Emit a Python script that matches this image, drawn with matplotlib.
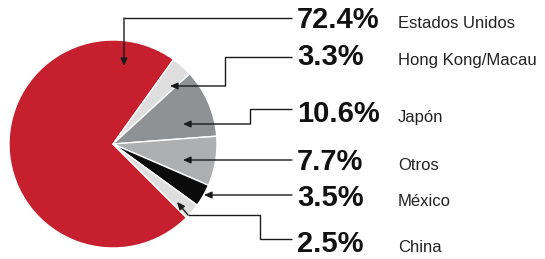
import matplotlib.pyplot as plt

W, H = 545, 259  # figure size in pixels

# data, top-to-bottom as in the labels
countries = ['Estados Unidos', 'Hong Kong/Macau', 'Japón', 'Otros', 'México', 'China']
shares = [72.4, 3.3, 10.6, 7.7, 3.5, 2.5]
pct_labels = ['72.4%', '3.3%', '10.6%', '7.7%', '3.5%', '2.5%']
colors = ['#c61f2e', '#dedede', '#8f9295', '#aeafb1', '#0b0b0b', '#dedede']

# layout (pixel coords, y measured from the top)
center = (113, 144)
radius = 104
baselines = [28, 65, 122, 170, 206, 252]
leaders = [
    [(292, 18), (124, 18), (124, 66)],
    [(292, 57), (225, 57), (225, 86), (170, 86)],
    [(292, 109), (250, 109), (250, 124), (183, 124)],
    [(292, 160), (183, 160)],
    [(292, 195), (204, 195)],
    [(292, 239), (260, 239), (260, 215), (188, 215), (177, 202)],
]


def flip(pts):
    return [(x, H - y) for x, y in pts]


plt.rcParams['font.family'] = ['Liberation Sans', 'DejaVu Sans']
fig = plt.figure(figsize=(W / 100, H / 100), dpi=100)
ax = fig.add_axes([0, 0, 1, 1])

ax.pie(shares, colors=colors, startangle=-45, counterclock=False,
       center=(center[0], H - center[1]), radius=radius,
       wedgeprops=dict(edgecolor='white', linewidth=1.0))

for path in leaders:
    pts = flip(path)
    xs = [p[0] for p in pts[:-1]]
    ys = [p[1] for p in pts[:-1]]
    ax.plot(xs, ys, color='#1a1a1a', lw=1.0, solid_capstyle='butt')
    ax.annotate('', xy=pts[-1], xytext=pts[-2],
                arrowprops=dict(arrowstyle='-|>,head_length=0.45,head_width=0.2',
                                color='#1a1a1a', lw=1.0, shrinkA=0, shrinkB=0))

for pct, name, yb in zip(pct_labels, countries, baselines):
    ax.text(297, H - yb, pct, fontsize=21, fontweight='bold',
            color='#111111', va='baseline', ha='left')
    ax.text(398, H - yb, name, fontsize=12, color='#222222',
            va='baseline', ha='left')

ax.set_xlim(0, W)
ax.set_ylim(0, H)
ax.set_aspect('equal')
ax.axis('off')

fig.savefig('out.png', dpi=100, facecolor='white')
